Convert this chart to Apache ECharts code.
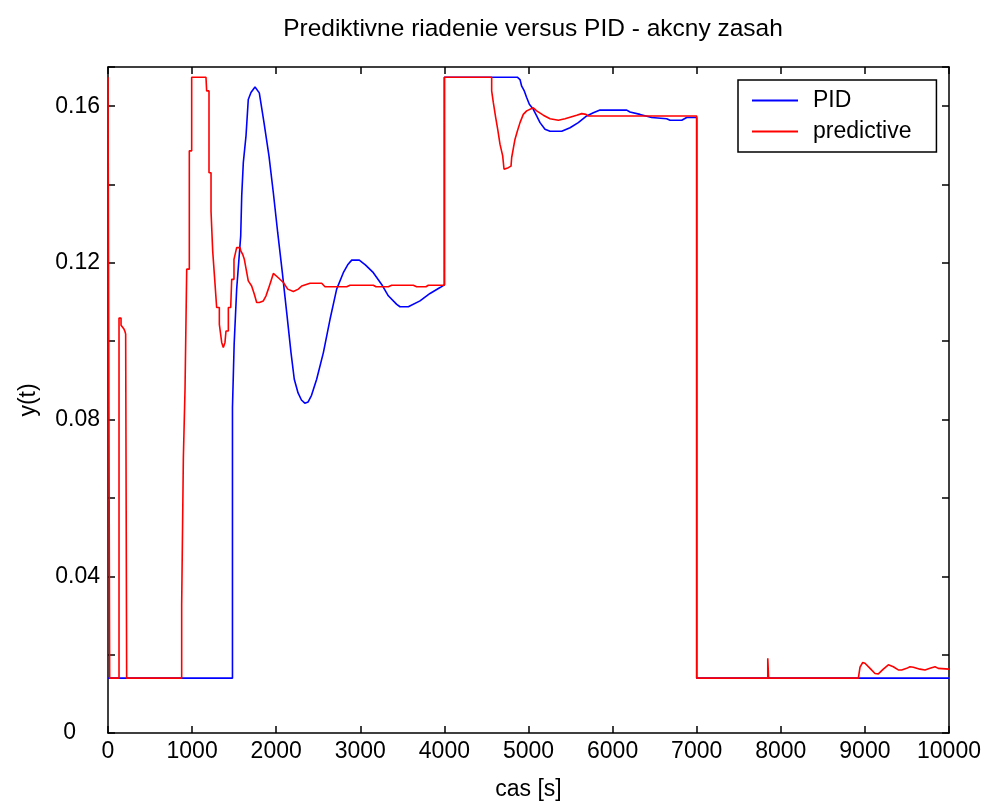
<!DOCTYPE html>
<html>
<head>
<meta charset="utf-8">
<script src="https://cdn.jsdelivr.net/npm/echarts@6/dist/echarts.min.js"></script>
<style>html,body{margin:0;padding:0;background:#fff}#c{width:991px;height:806px}</style>
</head>
<body>
<div id="c"></div>
<script>
const FONT = 'Liberation Sans, Arial, sans-serif';
const titleText = 'Prediktivne riadenie versus PID - akcny zasah';
const xName = 'cas [s]';
const yName = 'y(t)';
const seriesNames = ['PID', 'predictive'];
const xTicks = [0, 10000, 1000];
const yTicks = [0, 0.17, 0.02];

const pidData = [
  [0,0.014],[1480,0.014],[1480,0.0831],[1500,0.0831],[1500,0.0992],[1522,0.0992],[1530,0.1133],[1550,0.1137],
  [1578,0.1269],[1590,0.1371],[1609,0.1456],[1641,0.1524],[1668,0.1617],[1700,0.1635],[1748,0.1649],[1770,0.1645],
  [1799,0.1634],[1855,0.1558],[1914,0.1473],[1966,0.1379],[2018,0.1277],[2073,0.1175],[2125,0.1073],[2176,0.0971],
  [2215,0.0903],[2260,0.0868],[2300,0.0850],[2340,0.0842],[2380,0.0845],[2420,0.0862],[2481,0.0903],[2561,0.0971],
  [2640,0.1056],[2719,0.1133],[2798,0.1175],[2850,0.1195],[2898,0.1207],[2988,0.1207],[3060,0.1195],[3155,0.1175],
  [3254,0.1145],[3333,0.1116],[3433,0.1094],[3472,0.1088],[3571,0.1088],[3710,0.1103],[3829,0.1122],[3948,0.1137],
  [4000,0.1144],[4000,0.1674],[4867,0.1674],[4899,0.1668],[4919,0.1651],[4950,0.1639],[4978,0.1622],[5010,0.1605],
  [5057,0.1592],[5097,0.1575],[5137,0.1558],[5196,0.1541],[5256,0.1536],[5395,0.1536],[5494,0.1545],[5592,0.1558],
  [5692,0.1575],[5771,0.1583],[5850,0.1590],[6168,0.1590],[6207,0.1585],[6326,0.1579],[6465,0.1571],[6643,0.1568],
  [6683,0.1564],[6822,0.1564],[6881,0.1571],[7000,0.1571],[7000,0.014],[10000,0.014]
];

const predData = [
  [0,0.1674],[20,0.1674],[20,0.014],[131,0.014],[131,0.1059],[155,0.1059],[155,0.1041],[175,0.1037],[190,0.1031],
  [202,0.1025],[210,0.1018],[222,0.1018],[222,0.014],[876,0.014],[876,0.0327],[896,0.0327],[896,0.0701],[916,0.0701],
  [916,0.0879],[936,0.0879],[936,0.1184],[967,0.1184],[967,0.1486],[995,0.1486],[995,0.1674],[1165,0.1674],
  [1173,0.1639],[1201,0.1639],[1201,0.1430],[1225,0.1430],[1225,0.1332],[1245,0.1332],[1245,0.1230],[1264,0.1230],
  [1270,0.1154],[1292,0.1154],[1292,0.1086],[1324,0.1086],[1324,0.1043],[1345,0.1043],[1352,0.0997],[1371,0.0984],
  [1391,0.0997],[1403,0.1026],[1431,0.1026],[1431,0.1086],[1459,0.1086],[1471,0.1158],[1498,0.1158],[1498,0.1209],
  [1520,0.1209],[1530,0.1239],[1570,0.1239],[1580,0.1230],[1601,0.1222],[1620,0.1210],[1641,0.1205],[1668,0.1154],
  [1708,0.1141],[1740,0.1120],[1768,0.1099],[1799,0.1099],[1847,0.1103],[1879,0.1116],[1906,0.1133],[1938,0.1154],
  [1966,0.1173],[2025,0.1162],[2085,0.1150],[2137,0.1133],[2204,0.1127],[2224,0.1124],[2263,0.1133],[2303,0.1141],
  [2402,0.1148],[2541,0.1148],[2580,0.1139],[2838,0.1139],[2878,0.1143],[3155,0.1143],[3187,0.1139],[3333,0.1139],
  [3373,0.1143],[3630,0.1143],[3670,0.1139],[3781,0.1139],[3809,0.1143],[4000,0.1143],[4000,0.1674],[4562,0.1674],
  [4562,0.1639],[4582,0.1609],[4610,0.1571],[4634,0.1541],[4661,0.1503],[4693,0.1473],[4709,0.1439],[4732,0.1436],
  [4760,0.1443],[4792,0.1447],[4800,0.1469],[4839,0.1515],[4867,0.1536],[4899,0.1558],[4938,0.1579],[4978,0.1588],
  [5057,0.1596],[5097,0.1588],[5176,0.1577],[5256,0.1568],[5355,0.1564],[5434,0.1568],[5573,0.1577],[5633,0.1581],
  [5684,0.1579],[5711,0.1575],[7000,0.1575],[7000,0.014],[7845,0.014],[7845,0.0191],[7855,0.0191],[7855,0.014],
  [8922,0.014],[8942,0.0168],[8974,0.0180],[9001,0.0178],[9061,0.0165],[9120,0.0152],[9160,0.0151],[9219,0.0163],
  [9279,0.0174],[9338,0.0169],[9397,0.0161],[9437,0.0161],[9497,0.0165],[9536,0.0169],[9576,0.0168],[9655,0.0163],
  [9715,0.0161],[9774,0.0165],[9834,0.0169],[9873,0.0165],[10000,0.0163]
];

const chart = echarts.init(document.getElementById('c'), null, {renderer: 'canvas'});
const axisLine = {show: true, onZero: false, lineStyle: {color: '#000', width: 1.5}};
const tick = {show: true, inside: true, length: 7, lineStyle: {color: '#000', width: 1.5}};
function yFmt(v) {
  const k = Math.round(v * 100);
  if (Math.abs(v * 100 - k) > 1e-6 || k % 4 !== 0 || k > 16) return '';
  if (k === 0) return '{z|0}';
  return v.toFixed(2);
}
function xFmt(v) { return String(Math.round(v)); }
chart.setOption({
  animation: false,
  backgroundColor: '#fff',
  title: {
    text: titleText, left: 528, top: 12, textAlign: 'center',
    textStyle: {fontFamily: FONT, fontSize: 24.5, fontWeight: 'normal', color: '#000'}
  },
  grid: {left: 108, right: 42, top: 67, bottom: 72, containLabel: false},
  legend: {
    data: seriesNames, orient: 'vertical', left: 738, top: 80,
    padding: [9, 25, 9, 14], itemGap: 8, itemWidth: 46, itemHeight: 2, icon: 'rect',
    backgroundColor: '#fff', borderColor: '#000', borderWidth: 1.5, borderRadius: 0,
    textStyle: {fontFamily: FONT, fontSize: 23, lineHeight: 23, color: '#000', padding: [0, 0, 0, 10]}
  },
  xAxis: [
    {type: 'value', position: 'bottom', min: xTicks[0], max: xTicks[1], interval: xTicks[2],
     name: xName, nameLocation: 'middle', nameGap: 45,
     nameTextStyle: {fontFamily: FONT, fontSize: 23, color: '#000'},
     axisLine, axisTick: tick, splitLine: {show: false},
     axisLabel: {fontFamily: FONT, fontSize: 23, color: '#000', margin: 7, formatter: xFmt}},
    {type: 'value', position: 'top', min: xTicks[0], max: xTicks[1], interval: xTicks[2],
     axisLine, axisTick: tick, splitLine: {show: false}, axisLabel: {show: false}}
  ],
  yAxis: [
    {type: 'value', position: 'left', min: yTicks[0], max: yTicks[1], interval: yTicks[2],
     name: yName, nameLocation: 'middle', nameGap: 68, nameRotate: 90,
     nameTextStyle: {fontFamily: FONT, fontSize: 23, color: '#000'},
     axisLine, axisTick: tick, splitLine: {show: false},
     axisLabel: {fontFamily: FONT, fontSize: 23, color: '#000', margin: 8, formatter: yFmt,
       showMinLabel: true, showMaxLabel: true,
       rich: {z: {fontFamily: FONT, fontSize: 23, color: '#000', padding: [0, 24, 0, 0]}}}},
    {type: 'value', position: 'right', min: yTicks[0], max: yTicks[1], interval: yTicks[2],
     axisLine, axisTick: tick, splitLine: {show: false}, axisLabel: {show: false}}
  ],
  series: [
    {name: seriesNames[0], type: 'line', data: pidData, showSymbol: false, symbol: 'none',
     lineStyle: {color: '#0000ff', width: 1.6}, itemStyle: {color: '#0000ff'}, clip: true},
    {name: seriesNames[1], type: 'line', data: predData, showSymbol: false, symbol: 'none',
     lineStyle: {color: '#ff0000', width: 1.6}, itemStyle: {color: '#ff0000'}, clip: true}
  ]
});
</script>
</body>
</html>
